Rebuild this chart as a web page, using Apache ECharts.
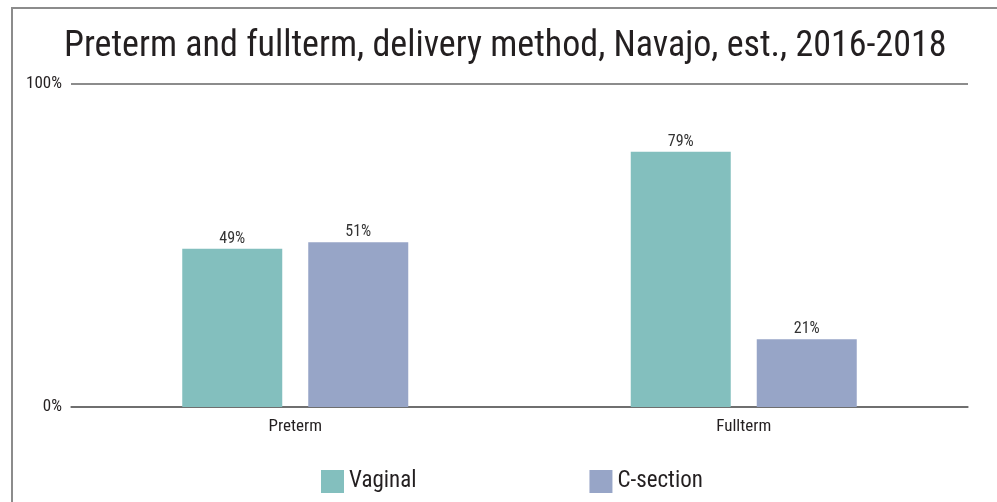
<!DOCTYPE html>
<html>
<head>
<meta charset="utf-8">
<script src="https://cdn.jsdelivr.net/npm/echarts@6/dist/echarts.min.js"></script>
<style>
  html, body { margin: 0; padding: 0; background: #fff; }
  #chart { width: 997px; height: 502px; }
  .frame {
    position: absolute; left: 11px; top: 7px; right: 0; bottom: 0;
    border-left: 2px solid #8c8c8c; border-top: 2px solid #8c8c8c;
    pointer-events: none;
  }
</style>
</head>
<body>
<div id="chart"></div>
<div class="frame"></div>
<script>
// 数据
const categories = ['Preterm', 'Fullterm'];
const vaginal = [49, 79];
const cSection = [51, 21];
const yTicks = [0, 100];

const font = '"Roboto Condensed", "Liberation Sans", sans-serif';

const chart = echarts.init(document.getElementById('chart'));

const option = {
  title: {
    text: 'Preterm and fullterm, delivery method, Navajo, est., 2016-2018',
    left: 64,
    top: 29,
    padding: 0,
    textStyle: { fontFamily: font, fontSize: 36, fontWeight: 'normal', color: '#231f20' },
  },
  grid: { left: 71, right: 29, top: 84, bottom: 95 },
  legend: {
    left: 316,
    top: 465,
    itemWidth: 23,
    itemHeight: 23,
    itemGap: 173,
    icon: 'rect',
    textStyle: { fontFamily: font, fontSize: 23, color: '#231f20' },
  },
  xAxis: {
    type: 'category',
    data: categories,
    axisTick: { show: false },
    axisLine: { lineStyle: { color: '#666', width: 1.5 } },
    axisLabel: { fontFamily: font, fontSize: 17, color: '#231f20', margin: 11 },
  },
  yAxis: {
    type: 'value',
    min: yTicks[0],
    max: yTicks[1],
    interval: yTicks[1] - yTicks[0],
    axisLabel: {
      fontFamily: font, fontSize: 17, color: '#231f20', margin: 9,
      formatter: v => v + '%',
    },
    splitLine: { lineStyle: { color: '#666', width: 1.5 } },
  },
  series: [
    {
      name: 'Vaginal',
      type: 'bar',
      data: vaginal,
      barWidth: 100,
      barGap: '26%',
      itemStyle: { color: '#83bfbe' },
      label: {
        show: true, position: 'top', distance: 2,
        fontFamily: font, fontSize: 16, color: '#333',
        formatter: p => p.value + '%',
      },
    },
    {
      name: 'C-section',
      type: 'bar',
      data: cSection,
      barWidth: 100,
      itemStyle: { color: '#97a5c7' },
      label: {
        show: true, position: 'top', distance: 2,
        fontFamily: font, fontSize: 16, color: '#333',
        formatter: p => p.value + '%',
      },
    },
  ],
};

chart.setOption(option);
</script>
</body>
</html>
